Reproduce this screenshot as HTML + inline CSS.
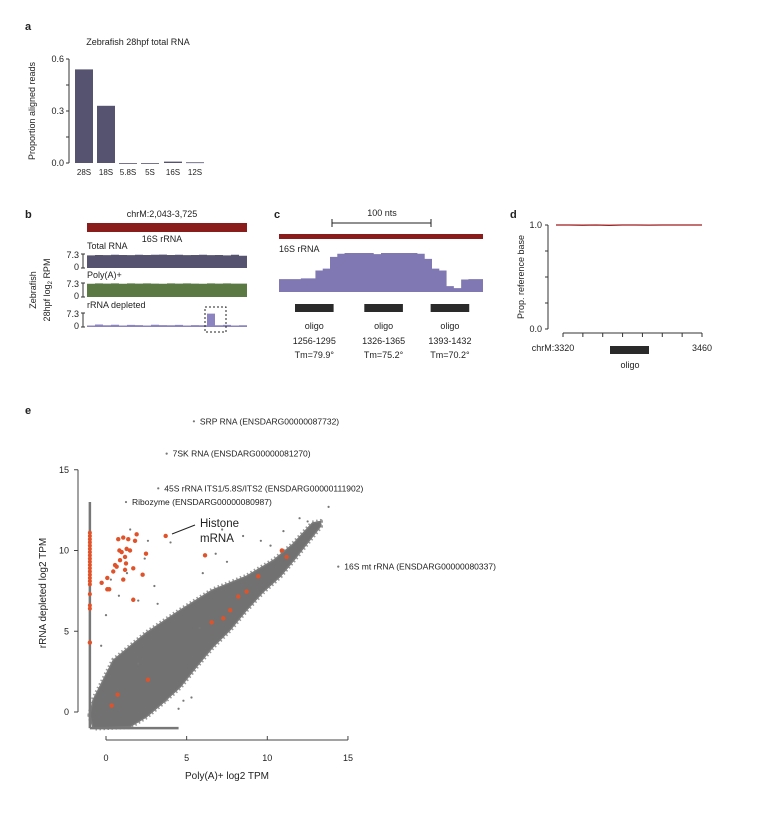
<!DOCTYPE html>
<html><head><meta charset="utf-8"><style>
body{margin:0;background:#fff}
svg{display:block;font-family:"Liberation Sans",Arial,sans-serif}
</style></head><body>
<svg id="fig" width="758" height="814" viewBox="0 0 758 814" xmlns="http://www.w3.org/2000/svg">
<g id="pa"></g>
<g id="pb"></g>
<g id="pc"></g>
<g id="pd"></g>
<g id="pe"></g>
</svg>
<script>
// Panel a data
const aCats=["28S","18S","5.8S","5S","16S","12S"];
const aVals=[0.54,0.33,0,0,0.008,0.004];
const aTicks=[0,0.3,0.6];
// Panel b track profiles (log2 RPM, max 7.3)
const bTotal=[6.6,6.8,6.7,6.9,6.8,6.7,6.9,6.8,6.9,7.0,6.8,6.9,6.7,6.8,6.9,6.7,6.8,6.6,6.9,6.4];
const bPolyA=[6.9,7.1,7.0,7.1,6.9,7.1,7.0,7.1,7.0,6.9,7.1,7.0,7.1,7.0,6.9,7.1,7.0,7.1,7.0,7.0];
const bDepl=[0.8,1.3,0.9,1.2,0.8,1.1,1.0,0.8,1.2,1.0,0.9,1.1,0.8,1.0,0.9,7.0,0.9,1.1,0.8,0.9];
// Panel c coverage profile (relative height 0..1)
const cCov=[0.33,0.33,0.33,0.35,0.35,0.55,0.6,0.9,0.98,1,1,1,1,0.97,1,1,1,1,1,0.98,0.85,0.6,0.55,0.15,0.1,0.32,0.33,0.33];
const cOligoStart=[1256,1326,1393];
const cOligoEnd=[1295,1365,1432];
const cTm=["79.9","75.2","70.2"];
// Panel d
const dTicks=[0,0.25,0.5,0.75,1.0];
const dProp=[1,1,0.998,1,0.997,1,1,0.999,1,1,1,1];
// Panel e data (log2 TPM)
const eTicks=[0,5,10,15];
const cloudUpperX=[-1,-0.8,0.45,2.5,4.6,6.6,8.7,10.4,11.6,12.8,13.3];
const cloudUpperY=[-0.2,0.74,3.2,4.9,6.3,7.55,8.4,9.4,10.4,11.7,11.8];
const cloudLowerX=[13.3,11.8,10.8,9.7,8.7,7.7,6.6,5.6,4.6,3.5,2.5,1.5,-0.8];
const cloudLowerY=[11.5,9.6,8.4,7.4,6.3,5.1,4.0,2.8,1.55,0.55,-0.3,-0.9,-1];
const grayX=[1.5,2.6,0.3,-0.3,4.0,5.8,6.8,3.2,7.2,8.5,9.6,12.0,12.5,13.3,13.8,2.0,3.7,4.8,0.8,5.3,1.3,2.4,3.0,6.0,7.5,10.2,11.0,4.5,2.0,0.0];
const grayY=[11.3,10.6,8.2,4.1,10.5,5.2,9.8,6.7,11.3,10.9,10.6,12.0,11.8,11.6,12.7,6.9,0.7,0.7,7.2,0.9,8.6,9.5,7.8,8.6,9.3,10.3,11.2,0.2,3.0,6.0];
const orangeX=[-0.27,0.08,0.2,0.08,0.45,0.66,0.87,0.56,0.97,0.83,1.18,1.28,0.76,1.07,1.38,1.49,1.24,1.18,1.07,1.69,1.69,1.9,1.8,2.48,2.27,3.7,6.14,0.72,0.35,2.6,6.55,7.27,7.7,8.2,8.72,9.44,10.9,11.2,-1];
const orangeY=[8.0,7.6,7.6,8.3,8.7,9.0,9.4,9.1,9.9,10.0,9.6,10.1,10.7,10.8,10.7,10.0,9.2,8.8,8.2,8.9,6.95,11.0,10.6,9.8,8.5,10.9,9.7,1.07,0.4,2.0,5.55,5.8,6.3,7.15,7.46,8.4,10.0,9.6,4.3];
const stripY=[11.1,10.9,10.7,10.5,10.3,10.1,9.9,9.7,9.5,9.3,9.1,8.9,8.7,8.5,8.3,8.1,7.9,7.3,6.6,6.4];
const namedX=[5.45,3.76,3.24,1.24,14.4];
const namedY=[18.0,16.0,13.85,13.0,9.0];
const namedLabels=["SRP RNA (ENSDARG00000087732)","7SK RNA (ENSDARG00000081270)","45S rRNA ITS1/5.8S/ITS2 (ENSDARG00000111902)","Ribozyme (ENSDARG00000080987)","16S mt rRNA (ENSDARG00000080337)"];

const NS="http://www.w3.org/2000/svg";
function mk(parent,tag,attrs,text){const e=document.createElementNS(NS,tag);for(const k in attrs)e.setAttribute(k,attrs[k]);if(text!==undefined)e.textContent=text;parent.appendChild(e);return e;}
function txt(p,x,y,s,size,anchor,name,extra){const e=mk(p,"text",Object.assign({x:x,y:y,"font-size":size,"text-anchor":anchor||"start",fill:"#222"},extra||{}),s);


return e;}

// ---------- Panel a ----------
(function(){
const g=document.getElementById("pa");
const y=v=>163-(v/0.6)*104;
const bx=[75,97,119,141,164,186],bw=18;
txt(g,25,30,"a",11,"start","panel-a-label",{"font-weight":"bold"});
txt(g,138,45,"Zebrafish 28hpf total RNA",9,"middle","panel-a-title");
const ax=mk(g,"line",{x1:69,x2:69,y1:y(0.6),y2:y(0),stroke:"#333","stroke-width":1});


[0,0.15,0.3,0.45,0.6].forEach(v=>{const t=mk(g,"line",{x1:66,x2:69,y1:y(v),y2:y(v),stroke:"#333"});

});
aTicks.forEach(v=>txt(g,64,y(v)+3,v.toFixed(1),9,"end","y-tick-label"));
txt(g,0,0,"Proportion aligned reads",9,"middle","y-axis-title",{transform:"translate(35,111) rotate(-90)"});
aCats.forEach((c,i)=>{
 const r=mk(g,"rect",{x:bx[i],y:y(aVals[i]),width:bw,height:Math.max(0.8,163-y(aVals[i])),fill:"#55536f"});
 
 
 txt(g,bx[i]+bw/2,175,c,8,"middle","x-tick-label");
});
})();

// ---------- Panel b ----------
(function(){
const g=document.getElementById("pb");
txt(g,25,218,"b",11,"start","panel-b-label",{"font-weight":"bold"});
txt(g,162,217,"chrM:2,043-3,725",9,"middle","locus-label");
const rb=mk(g,"rect",{x:87,y:223,width:160,height:9,fill:"#8b1c1c"});


txt(g,162,242,"16S rRNA",9,"middle","gene-label");
const tracks=[[bTotal,"Total RNA",268,"#55536f","total-rna-track"],[bPolyA,"Poly(A)+",297,"#5b7a43","polya-track"],[bDepl,"rRNA depleted",327,"#8c84c0","rrna-depleted-track"]];
tracks.forEach(([vals,lab,base,col,nm])=>{
 const h=14,x0=87,w=160,n=vals.length,sw=w/n;
 let d="M"+x0+","+base;
 vals.forEach((v,i)=>{const yy=base-v/7.3*h;d+=" L"+(x0+i*sw)+","+yy+" L"+(x0+(i+1)*sw)+","+yy;});
 d+=" L"+(x0+w)+","+base+" Z";
 const p=mk(g,"path",{d:d,fill:col});
 
 
 txt(g,87,base-19,lab,9,"start","track-label");
 txt(g,79,base-10,"7.3",9,"end","track-max-label");
 txt(g,79,base+2,"0",9,"end","track-min-label");
 const br=mk(g,"path",{d:`M81,${base-h} h4 M83,${base-h} V${base} M81,${base} h4`,stroke:"#333",fill:"none"});
 
 
});
const box=mk(g,"rect",{x:205,y:307,width:21,height:25,fill:"none",stroke:"#222","stroke-dasharray":"2,2","stroke-width":1});


txt(g,0,0,"Zebrafish",9,"middle","y-axis-title-line1",{transform:"translate(36,290) rotate(-90)"});
const t2=txt(g,0,0,"",9,"middle","y-axis-title-line2",{transform:"translate(50,290) rotate(-90)"});
t2.innerHTML='28hpf log<tspan font-size="6" dy="2">2</tspan><tspan dy="-2"> RPM</tspan>';
})();

// ---------- Panel c ----------
(function(){
const g=document.getElementById("pc");
txt(g,274,218,"c",11,"start","panel-c-label",{"font-weight":"bold"});
const sb=mk(g,"path",{d:"M332,219 v8 M332,223 H431 M431,219 v8",stroke:"#222",fill:"none"});


txt(g,382,216,"100 nts",9,"middle","scale-bar-label");
const rb=mk(g,"rect",{x:279,y:234,width:204,height:5,fill:"#8b1c1c"});


txt(g,279,252,"16S rRNA",9,"start","gene-label");
const x0=279,w=204,base=292,h=39,sw=w/cCov.length;
let d="M"+x0+","+base;
cCov.forEach((v,i)=>{const yy=base-v*h;d+=" L"+(x0+i*sw)+","+yy+" L"+(x0+(i+1)*sw)+","+yy;});
d+=" L"+(x0+w)+","+base+" Z";
const p=mk(g,"path",{d:d,fill:"#7f78b3"});


const nx=nt=>295+(nt-1256)*0.99;
cOligoStart.forEach((s,i)=>{
 const r=mk(g,"rect",{x:nx(s),y:304,width:(cOligoEnd[i]-s)*0.99,height:8,fill:"#2a2a2a"});
 
 
 const cx=nx(s)+(cOligoEnd[i]-s)*0.495;
 txt(g,cx,329,"oligo",9,"middle","oligo-label");
 txt(g,cx,344,s+"-"+cOligoEnd[i],9,"middle","oligo-range");
 txt(g,cx,358,"Tm="+cTm[i]+"°",9,"middle","oligo-tm");
});
})();

// ---------- Panel d ----------
(function(){
const g=document.getElementById("pd");
txt(g,510,218,"d",11,"start","panel-d-label",{"font-weight":"bold"});
const y=v=>329-v*104;
const ax=mk(g,"line",{x1:548,x2:548,y1:y(1),y2:y(0),stroke:"#333"});


dTicks.forEach(v=>{const t=mk(g,"line",{x1:545,x2:548,y1:y(v),y2:y(v),stroke:"#333"});

});
txt(g,542,y(1)+3,"1.0",9,"end","y-tick-label");
txt(g,542,y(0)+3,"0.0",9,"end","y-tick-label");
txt(g,0,0,"Prop. reference base",9,"middle","y-axis-title",{transform:"translate(524,277) rotate(-90)"});
const xs=i=>556+i*(146/(dProp.length-1));
const ln=mk(g,"polyline",{points:dProp.map((v,i)=>xs(i)+","+y(v)).join(" "),fill:"none",stroke:"#a01c1c","stroke-width":1.3});


const xa=mk(g,"line",{x1:563,x2:702,y1:333,y2:333,stroke:"#333"});


for(let i=0;i<=7;i++){const t=mk(g,"line",{x1:563+i*139/7,x2:563+i*139/7,y1:333,y2:337,stroke:"#333"});

}
txt(g,553,351,"chrM:3320",9,"middle","x-tick-label");
txt(g,702,351,"3460",9,"middle","x-tick-label");
const ob=mk(g,"rect",{x:610,y:346,width:39,height:8,fill:"#2a2a2a"});


txt(g,630,368,"oligo",9,"middle","oligo-label");
})();

// ---------- Panel e ----------
(function(){
const g=document.getElementById("pe");
const X=v=>106+v*16.13, Y=v=>712-v*16.15;
txt(g,25,414,"e",11,"start","panel-e-label",{"font-weight":"bold"});
const ya=mk(g,"line",{x1:78,x2:78,y1:Y(15),y2:Y(0),stroke:"#444"});


eTicks.forEach(v=>{
 const t=mk(g,"line",{x1:74,x2:78,y1:Y(v),y2:Y(v),stroke:"#444"});
 
 
 txt(g,69,Y(v)+3,String(v),9,"end","y-tick-label");
 const tx=mk(g,"line",{x1:X(v),x2:X(v),y1:740,y2:736,stroke:"#444"});
 
 
 txt(g,X(v),761,String(v),9,"middle","x-tick-label");
});
const xa=mk(g,"line",{x1:X(0),x2:X(15),y1:740,y2:740,stroke:"#444"});


txt(g,227,779,"Poly(A)+ log2 TPM",10,"middle","x-axis-title");
txt(g,0,0,"rRNA depleted log2 TPM",10,"middle","y-axis-title",{transform:"translate(46,593) rotate(-90)"});
const pts=cloudUpperX.map((x,i)=>X(x)+","+Y(cloudUpperY[i])).concat(cloudLowerX.map((x,i)=>X(x)+","+Y(cloudLowerY[i])));
const cl0=mk(g,"polygon",{points:pts.join(" "),fill:"none",stroke:"#999","stroke-width":5,"stroke-dasharray":"1.5,2.5","stroke-linejoin":"round"});


const cl=mk(g,"polygon",{points:pts.join(" "),fill:"#717171",stroke:"#7a7a7a","stroke-width":1.5,"stroke-linejoin":"round"});


const vs=mk(g,"line",{x1:X(-1),x2:X(-1),y1:Y(-1),y2:Y(13),stroke:"#777","stroke-width":2.5});


const hs=mk(g,"line",{x1:X(-1),x2:X(4.5),y1:Y(-1),y2:Y(-1),stroke:"#777","stroke-width":2.5});


grayX.forEach((x,i)=>{const c=mk(g,"circle",{cx:X(x),cy:Y(grayY[i]),r:1.1,fill:"#777"});

});
stripY.forEach(v=>{const c=mk(g,"circle",{cx:X(-1),cy:Y(v),r:2,fill:"#e0532a"});

});
orangeX.forEach((x,i)=>{const c=mk(g,"circle",{cx:X(x),cy:Y(orangeY[i]),r:2.2,fill:"#e0532a"});

});
namedX.forEach((x,i)=>{
 const c=mk(g,"circle",{cx:X(x),cy:Y(namedY[i]),r:1.1,fill:"#777"});
 
 
 txt(g,X(x)+6,Y(namedY[i])+3,namedLabels[i],8.5,"start","gene-annotation");
});
const hl=mk(g,"line",{x1:172,y1:534,x2:195,y2:525,stroke:"#222"});


txt(g,200,527,"Histone",11.5,"start","histone-label");
txt(g,200,542,"mRNA",11.5,"start","histone-label");
})();
</script>
</body></html>
